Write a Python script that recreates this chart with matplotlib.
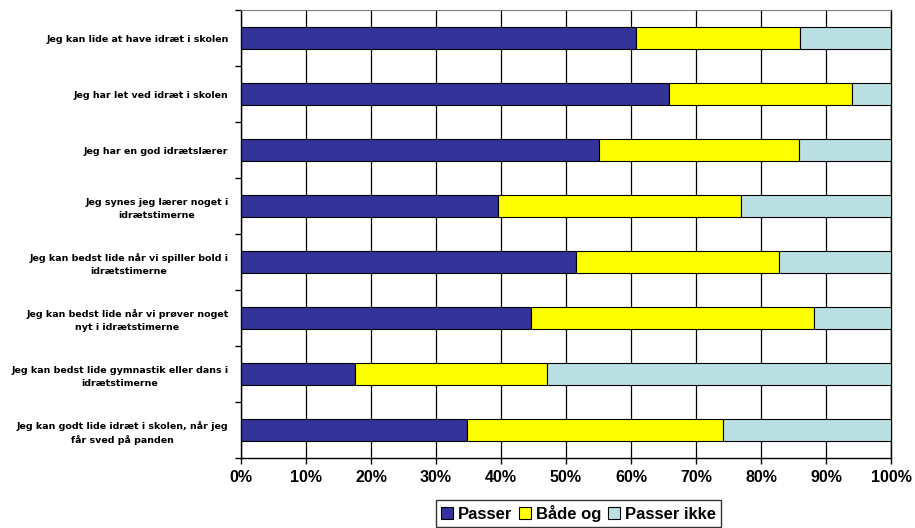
import numpy as np
import matplotlib
matplotlib.use("Agg")
import matplotlib.pyplot as plt
from matplotlib.ticker import PercentFormatter, FixedLocator

plt.rcParams['font.family'] = ['Liberation Sans', 'DejaVu Sans']

# udsagn (oppefra og ned)
udsagn = [
    "Jeg kan lide at have idræt i skolen",
    "Jeg har let ved idræt i skolen",
    "Jeg har en god idrætslærer",
    "Jeg synes jeg lærer noget i\nidrætstimerne",
    "Jeg kan bedst lide når vi spiller bold i\nidrætstimerne",
    "Jeg kan bedst lide når vi prøver noget\nnyt i idrætstimerne",
    "Jeg kan bedst lide gymnastik eller dans i\nidrætstimerne",
    "Jeg kan godt lide idræt i skolen, når jeg\nfår sved på panden",
]

# andele i procent
passer = [60.7, 65.9, 55.1, 39.6, 51.6, 44.6, 17.5, 34.7]
baade_og = [25.3, 28.1, 30.7, 37.3, 31.2, 43.5, 29.5, 39.5]
passer_ikke = [14.0, 6.0, 14.2, 23.1, 17.2, 11.9, 53.0, 25.8]

serier = ["Passer", "Både og", "Passer ikke"]
farver = ["#333399", "#FFFF00", "#BAE0E3"]

fig = plt.figure(figsize=(9.15, 5.28), dpi=100)
ax = fig.add_axes([241 / 915, 1 - 458 / 528, 650 / 915, 448 / 528])

y = np.arange(len(udsagn))
venstre = np.zeros(len(udsagn))
for navn, vaerdier, farve in zip(serier, [passer, baade_og, passer_ikke], farver):
    ax.barh(y, vaerdier, left=venstre, height=0.4, color=farve,
            edgecolor="black", linewidth=0.8, label=navn, zorder=3)
    venstre += np.array(vaerdier)

ax.set_xlim(0, 100)
ax.set_ylim(len(udsagn) - 0.5, -0.5)

ax.set_xticks(np.arange(0, 101, 10))
ax.xaxis.set_major_formatter(PercentFormatter(decimals=0))
ax.tick_params(axis="x", length=4, width=1, pad=5, labelsize=11.5)
for t in ax.get_xticklabels():
    t.set_fontweight("bold")

ax.set_yticks(y)
ax.set_yticklabels(udsagn, fontsize=6.8, fontweight="bold", family="DejaVu Sans",
                   multialignment="center", linespacing=1.55)
ax.tick_params(axis="y", which="major", length=0, pad=9)
ax.yaxis.set_minor_locator(FixedLocator(np.arange(-0.5, len(udsagn), 1)))
ax.tick_params(axis="y", which="minor", length=4, width=1)

ax.grid(axis="x", color="black", linewidth=0.9, zorder=0)
for side in ["left", "bottom", "right"]:
    ax.spines[side].set_color("black")
    ax.spines[side].set_linewidth(1)
ax.spines["top"].set_color("#808080")

leg = fig.legend(loc="upper center", bbox_to_anchor=(578.5 / 915, 1 - 500 / 528),
                 ncol=3, frameon=True, fancybox=False, edgecolor="black",
                 prop={"size": 12, "weight": "bold"}, handlelength=0.7,
                 handleheight=0.7, handletextpad=0.3, columnspacing=0.4,
                 borderpad=0.3, borderaxespad=0)
leg.get_frame().set_linewidth(1)

fig.savefig("out.png", dpi=100)
